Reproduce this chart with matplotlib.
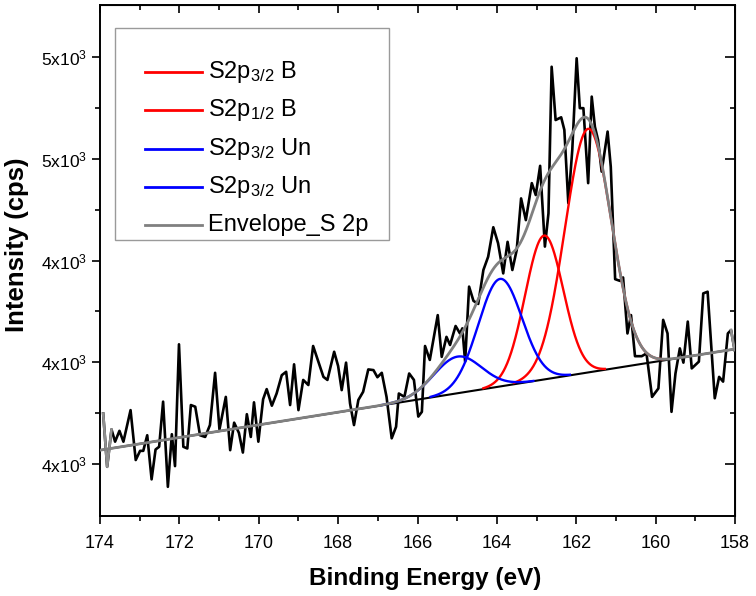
import numpy as np
import matplotlib
matplotlib.use("Agg")
import matplotlib.pyplot as plt
from matplotlib.ticker import FixedLocator, FixedFormatter, MultipleLocator

plt.rcParams['font.family'] = ['Liberation Sans', 'DejaVu Sans']
plt.rcParams['mathtext.fontset'] = 'custom'
plt.rcParams['mathtext.rm'] = 'Liberation Sans'
plt.rcParams['mathtext.it'] = 'Liberation Sans:italic'
plt.rcParams['mathtext.default'] = 'regular'

# ---- raw spectrum (binding energy eV, intensity cps) ----
energy = [173.92, 173.82, 173.71, 173.62, 173.51, 173.41, 173.23, 173.10, 172.99, 172.91,
          172.81, 172.70, 172.60, 172.51, 172.41, 172.29, 172.19, 172.11, 172.01, 171.90,
          171.80, 171.71, 171.60, 171.48, 171.35, 171.23, 171.10, 170.99, 170.83, 170.72,
          170.62, 170.50, 170.40, 170.30, 170.20, 170.12, 170.01, 169.89, 169.80, 169.67,
          169.55, 169.42, 169.31, 169.21, 169.11, 169.00, 168.88, 168.75, 168.63, 168.50,
          168.37, 168.27, 168.10, 168.00, 167.91, 167.80, 167.70, 167.60, 167.49, 167.37,
          167.24, 167.11, 167.01, 166.90, 166.78, 166.65, 166.54, 166.47, 166.33, 166.21,
          166.09, 165.98, 165.89, 165.81, 165.69, 165.49, 165.39, 165.27, 165.18, 165.04,
          164.93, 164.87, 164.80, 164.70, 164.59, 164.47, 164.34, 164.22, 164.09, 163.97,
          163.84, 163.73, 163.61, 163.50, 163.39, 163.27, 163.12, 163.02, 162.91, 162.79,
          162.70, 162.62, 162.52, 162.38, 162.30, 162.20, 162.10, 161.99, 161.91, 161.82,
          161.70, 161.61, 161.53, 161.45, 161.36, 161.21, 161.13, 161.02, 160.90, 160.82,
          160.71, 160.62, 160.52, 160.35, 160.23, 160.09, 159.93, 159.81, 159.70, 159.60,
          159.50, 159.39, 159.30, 159.19, 159.09, 158.91, 158.80, 158.69, 158.51, 158.40,
          158.30, 158.18, 158.10, 158.01]
intensity = [3949, 3792, 3902, 3866, 3898, 3866, 3959, 3812, 3839, 3839,
             3885, 3755, 3843, 3851, 3984, 3733, 3888, 3794, 4153, 3851,
             3846, 3974, 3969, 3885, 3880, 3915, 4069, 3902, 3998, 3841,
             3922, 3892, 3834, 3947, 3880, 3982, 3866, 3991, 4021, 3972,
             4008, 4062, 4072, 3974, 4094, 3959, 4048, 4033, 4148, 4102,
             4057, 4048, 4131, 4089, 4018, 4099, 3979, 3915, 3989, 4013,
             4079, 4077, 4056, 4069, 3998, 3876, 3910, 4008, 3998, 4067,
             4048, 3940, 3954, 4148, 4107, 4239, 4116, 4175, 4151, 4207,
             4185, 4200, 4102, 4323, 4281, 4272, 4372, 4411, 4498, 4451,
             4362, 4455, 4372, 4431, 4583, 4519, 4628, 4593, 4679, 4441,
             4539, 4971, 4814, 4822, 4785, 4569, 4726, 4996, 4849, 4849,
             4628, 4883, 4794, 4755, 4662, 4780, 4676, 4345, 4340, 4350,
             4185, 4239, 4118, 4118, 4126, 3998, 4023, 4225, 4185, 3954,
             4067, 4141, 4099, 4220, 4082, 4102, 4303, 4308, 3994, 4057,
             4043, 4185, 4195, 4136]

# ---- linear background (end points) ----
bg_energy = [174.0, 158.0]
bg_level = [3841, 4139]

# ---- fitted components: centre (eV), height above background (cps), sigma (eV) ----
peak_labels = ['S2p$_{3/2}$ B', 'S2p$_{1/2}$ B', 'S2p$_{3/2}$ Un', 'S2p$_{3/2}$ Un']
peak_center = [161.70, 162.81, 163.92, 164.99]
peak_height = [718, 424, 317, 108]
peak_sigma = [0.585, 0.48, 0.55, 0.60]
peak_colors = ['#ff0000', '#ff0000', '#0000ff', '#0000ff']

y_tick_values = [3800, 4100, 4400, 4700, 5000]
y_tick_labels = ['4x10$^{3}$', '4x10$^{3}$', '4x10$^{3}$', '5x10$^{3}$', '5x10$^{3}$']

W, H = 756, 596
fig = plt.figure(figsize=(W / 100, H / 100), dpi=100)
L, R, T, B = 100, 735, 5, 516
ax = fig.add_axes([L / W, 1 - B / H, (R - L) / W, (B - T) / H])

E = np.linspace(174, 158, 1601)
bg = np.interp(E, bg_energy[::-1], bg_level[::-1])
comps = []
for c, h, s in zip(peak_center, peak_height, peak_sigma):
    comps.append(h * np.exp(-(E - c) ** 2 / (2 * s ** 2)))
envelope = bg + np.sum(comps, axis=0)

en = np.array(energy)
it = np.array(intensity)
ax.plot(en, it, color='black', lw=1.9, zorder=3)
ax.plot(en[:3], it[:3], color='#909090', lw=1.9, zorder=3.1)
ax.plot(en[-2:], it[-2:], color='#909090', lw=1.9, zorder=3.1)
ax.plot(E, bg, color='black', lw=1.5, zorder=2)
for comp, s, c, col in zip(comps, peak_sigma, peak_center, peak_colors):
    m = np.abs(E - c) < 3.2 * s
    ax.plot(E[m], (bg + comp)[m], color=col, lw=1.7, zorder=4)
ax.plot(E, envelope, color='#808080', lw=2.0, zorder=5)

ax.set_xlim(174, 158)
ax.set_ylim(3647, 5153)
ax.xaxis.set_major_locator(MultipleLocator(2))
ax.xaxis.set_minor_locator(MultipleLocator(1))
ax.yaxis.set_major_locator(FixedLocator(y_tick_values))
ax.yaxis.set_major_formatter(FixedFormatter(y_tick_labels))
ax.yaxis.set_minor_locator(FixedLocator([3950, 4250, 4550, 4850]))
ax.tick_params(which='major', direction='out', length=6, width=1.2, colors='black')
ax.tick_params(which='minor', direction='out', length=3.5, width=1.2)
ax.tick_params(axis='x', which='major', pad=8, labelsize=13)
ax.tick_params(axis='y', which='major', pad=3, labelsize=12.5)
for sp in ax.spines.values():
    sp.set_linewidth(1.4)

sx = ax.secondary_xaxis('top')
sx.xaxis.set_major_locator(MultipleLocator(2))
sx.xaxis.set_minor_locator(MultipleLocator(1))
sx.tick_params(which='major', direction='in', length=6, width=1.2, labeltop=False)
sx.tick_params(which='minor', direction='in', length=3.5, width=1.2)
sy = ax.secondary_yaxis('right')
sy.yaxis.set_major_locator(FixedLocator(y_tick_values))
sy.yaxis.set_minor_locator(FixedLocator([3950, 4250, 4550, 4850]))
sy.tick_params(which='major', direction='in', length=7.5, width=1.2, labelright=False)
sy.tick_params(which='minor', direction='in', length=3.5, width=1.2)

ax.set_xlabel('Binding Energy (eV)', fontsize=17.5, fontweight='bold')
ax.set_ylabel('Intensity (cps)', fontsize=18.5, fontweight='bold')
ax.xaxis.set_label_coords(0.512, -0.1)
ax.yaxis.set_label_coords(-0.112, 0.53)

# legend box (drawn like the original)
def fx(px):
    return (px - L) / (R - L)

def fy(py):
    return (B - py) / (B - T)

ax.add_patch(plt.Rectangle((fx(115), fy(240)), fx(389) - fx(115), fy(28) - fy(240),
                           transform=ax.transAxes, fill=True, facecolor='white',
                           edgecolor='#9a9a9a', lw=1.0, zorder=6))
leg_labels = peak_labels + ['Envelope_S 2p']
leg_colors = peak_colors + ['#808080']
for i, (lab, col) in enumerate(zip(leg_labels, leg_colors)):
    py = 72 + i * 38.3
    ax.plot([fx(145), fx(202)], [fy(py), fy(py)], color=col, lw=2.0,
            transform=ax.transAxes, zorder=7, clip_on=False)
    ax.text(fx(208), fy(py), lab, transform=ax.transAxes, fontsize=17,
            va='center', ha='left', zorder=7)

fig.savefig('out.png', dpi=100)
